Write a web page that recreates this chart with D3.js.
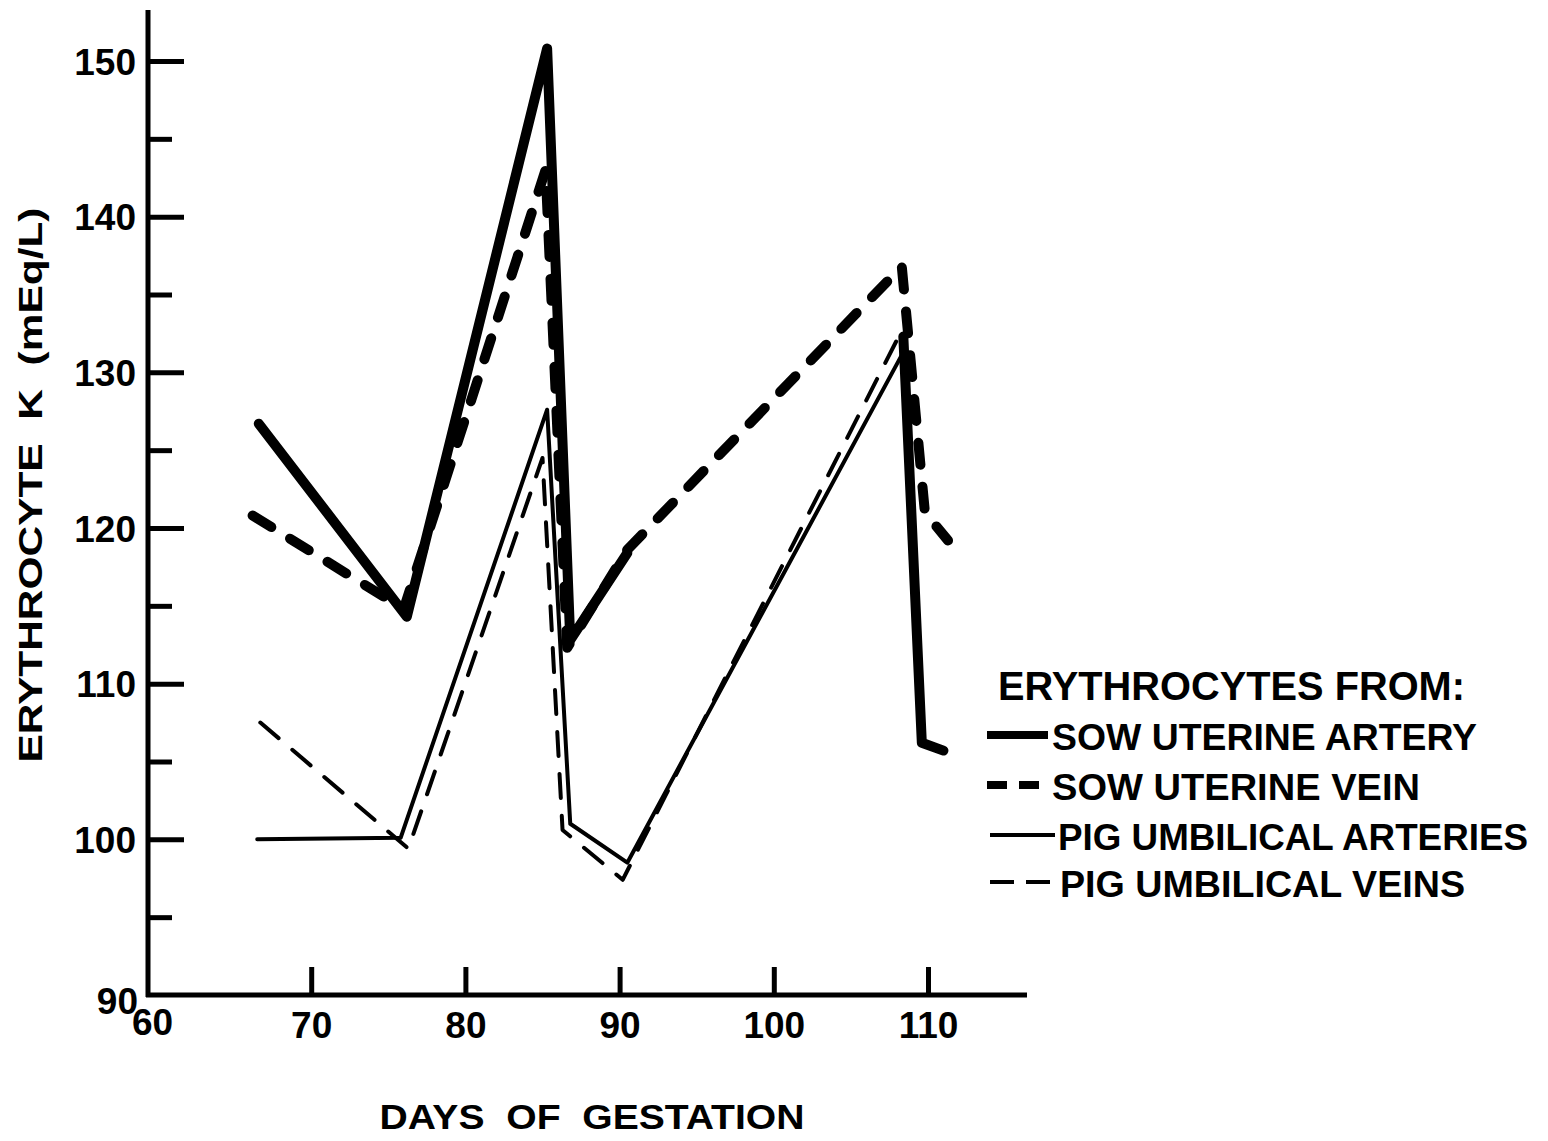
<!DOCTYPE html>
<html>
<head>
<meta charset="utf-8">
<script src="https://cdn.jsdelivr.net/npm/d3@7"></script>
<style>
  html, body { margin: 0; padding: 0; background: #fff; }
  svg { display: block; }
  text { font-family: "Liberation Sans", Arial, sans-serif; font-weight: bold; fill: #000; }
</style>
</head>
<body>
<svg id="chart" width="1548" height="1141"></svg>
<script>
// ---------------- data ----------------
const xTickValues = [60, 70, 80, 90, 100, 110];
const yTickValues = [90, 100, 110, 120, 130, 140, 150];
const yMinorTicks = [95, 105, 115, 125, 135, 145];

const sowArteryDays = [66.6, 76.2, 85.3, 86.8, 90.5, 99.0, 108.4, 109.6, 111.0];
const sowArteryK    = [126.7, 114.3, 150.8, 112.8, 118.4, null, 132.3, 106.2, 105.7];

const sowVeinDays = [66.2, 76.0, 85.2, 86.6, 90.5, 108.3, 109.8, 111.3];
const sowVeinK    = [120.8, 114.8, 143.0, 112.3, 118.6, 136.8, 121.0, 119.2];

const pigArteryDays = [66.5, 75.8, 85.3, 86.8, 90.5, 108.4];
const pigArteryK    = [100.0, 100.1, 127.6, 101.0, 98.5, 131.3];

const pigVeinDays = [66.7, 76.3, 85.0, 86.3, 90.2, 108.2];
const pigVeinK    = [107.5, 99.4, 124.5, 100.6, 97.4, 132.5];

const legendTitle = "ERYTHROCYTES FROM:";
const seriesNames = ["SOW UTERINE ARTERY", "SOW UTERINE VEIN", "PIG UMBILICAL ARTERIES", "PIG UMBILICAL VEINS"];
const xTitle = "DAYS  OF  GESTATION";
const yTitle = "ERYTHROCYTE  K  (mEq/L)";

// ---------------- chart ----------------
const svg = d3.select("#chart");
const x = d3.scaleLinear().domain([60, 110]).range([157, 928]);
const y = d3.scaleLinear().domain([90, 150]).range([995, 61]);
const axisX0 = 148, axisY0 = 995;

const styles = [
  { w: 10, dash: null },
  { w: 10, dash: "22,22" },
  { w: 4,  dash: null },
  { w: 4,  dash: "24,18" }
];

// axis lines
svg.append("line").attr("x1", axisX0).attr("x2", axisX0).attr("y1", 10).attr("y2", axisY0 + 2)
  .attr("stroke", "#000").attr("stroke-width", 5);
svg.append("line").attr("x1", axisX0 - 2).attr("x2", 1027).attr("y1", axisY0).attr("y2", axisY0)
  .attr("stroke", "#000").attr("stroke-width", 5);

// y major ticks (right side of axis)
const yMajor = svg.append("g").attr("transform", `translate(${axisX0},0)`)
  .call(d3.axisRight(y).tickValues(yTickValues.filter(v => v > 90)).tickSize(36).tickFormat(""));
yMajor.select(".domain").remove();
yMajor.selectAll("line").attr("stroke", "#000").attr("stroke-width", 5);

const yMinor = svg.append("g").attr("transform", `translate(${axisX0},0)`)
  .call(d3.axisRight(y).tickValues(yMinorTicks).tickSize(24).tickFormat(""));
yMinor.select(".domain").remove();
yMinor.selectAll("line").attr("stroke", "#000").attr("stroke-width", 5);

// y labels
const yLab = svg.append("g").attr("transform", `translate(${axisX0},0)`)
  .call(d3.axisLeft(y).tickValues(yTickValues).tickSize(0).tickPadding(12));
yLab.select(".domain").remove();
yLab.selectAll("text").attr("font-size", 37).attr("font-family", "Liberation Sans, Arial, sans-serif")
  .attr("font-weight", "bold").attr("fill", "#000").attr("dy", "0.36em");
yLab.selectAll(".tick").filter(d => d === 90).select("text").attr("dy", "0.5em").attr("x", -10);

// x axis ticks + labels
const xAx = svg.append("g").attr("transform", `translate(0,${axisY0})`)
  .call(d3.axisBottom(x).tickValues(xTickValues).tickSize(-28).tickPadding(17));
xAx.select(".domain").remove();
xAx.selectAll("line").attr("stroke", "#000").attr("stroke-width", 5);
xAx.selectAll(".tick").filter(d => d === 60).select("line").remove();
xAx.selectAll(".tick").filter(d => d === 60).select("text").attr("x", -5).attr("dy", "0.62em");
xAx.selectAll("text").attr("font-size", 37).attr("font-family", "Liberation Sans, Arial, sans-serif")
  .attr("font-weight", "bold").attr("fill", "#000");

// axis titles
svg.append("text").attr("x", 592).attr("y", 1129).attr("text-anchor", "middle")
  .attr("font-size", 35).attr("textLength", 425).attr("lengthAdjust", "spacingAndGlyphs")
  .style("white-space", "pre").text(xTitle);
svg.append("text").attr("transform", "translate(42,485) rotate(-90)").attr("text-anchor", "middle")
  .attr("font-size", 33).attr("textLength", 555).attr("lengthAdjust", "spacingAndGlyphs")
  .style("white-space", "pre").text(yTitle);

// series
const series = [
  d3.zip(sowArteryDays, sowArteryK),
  d3.zip(sowVeinDays, sowVeinK),
  d3.zip(pigArteryDays, pigArteryK),
  d3.zip(pigVeinDays, pigVeinK)
];
const line = d3.line().defined(d => d[1] != null).x(d => x(d[0])).y(d => y(d[1]));
series.forEach((s, i) => {
  svg.append("path").datum(s).attr("d", line).attr("fill", "none")
    .attr("stroke", "#000").attr("stroke-width", styles[i].w)
    .attr("stroke-linecap", "round").attr("stroke-linejoin", "round")
    .attr("stroke-dasharray", styles[i].dash);
});

// legend
const lg = svg.append("g");
lg.append("text").attr("x", 998).attr("y", 700).attr("font-size", 40)
  .attr("textLength", 467).attr("lengthAdjust", "spacingAndGlyphs").text(legendTitle);
const rowY = [735, 785, 835, 882];
const textW = [425, 368, 470, 405];
const textX = [1052, 1052, 1058, 1060];
const sampleX = [[987, 1048], [987, 1050], [990, 1055], [990, 1055]];
const sampleDash = [null, "20,12", null, "24,12"];
seriesNames.forEach((name, i) => {
  lg.append("line").attr("x1", sampleX[i][0]).attr("x2", sampleX[i][1])
    .attr("y1", rowY[i]).attr("y2", rowY[i]).attr("stroke", "#000")
    .attr("stroke-width", styles[i].w === 10 ? 8 : 4).attr("stroke-dasharray", sampleDash[i]);
  lg.append("text").attr("x", textX[i]).attr("y", rowY[i] + 15).attr("font-size", 37)
    .attr("textLength", textW[i]).attr("lengthAdjust", "spacingAndGlyphs").text(name);
});
</script>
</body>
</html>
